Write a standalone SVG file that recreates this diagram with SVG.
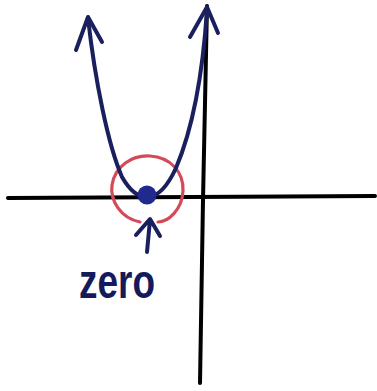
<svg xmlns="http://www.w3.org/2000/svg" width="377" height="391" viewBox="0 0 377 391">
<style>
.ax{stroke:#000;stroke-width:4;fill:none;stroke-linecap:round}
.ink{stroke:#1a1f5e;stroke-width:4;fill:none;stroke-linecap:round;stroke-linejoin:round}
</style>
<rect width="377" height="391" fill="#fff"/>
<g id="axes">
<path class="ax" d="M8,198 L375,196"/>
<path class="ax" d="M207,6 L203,200 L200,383"/>
</g>
<g id="circle">
<path d="M140,222 C120,218 110,200 112,185 C115,166 132,155 150,156 C170,157 184,172 183,191 C182,210 168,222 158,222" fill="none" stroke="#d44a5a" stroke-width="3.2" stroke-linecap="round"/>
</g>
<g id="parabola">
<path class="ink" d="M88,18 C95,80 108,145 122,177 Q134,198 148,197 Q163,196 176,168 C190,135 202,85 207,10"/>
<path class="ink" d="M76,50 L88,17 L102,42"/>
<path class="ink" d="M190,37 L207,7 L218,33"/>
</g>
<g id="zero-point">
<circle cx="147" cy="195" r="9.5" fill="#1f2a8c"/>
</g>
<g id="label">
<path class="ink" d="M147,252 L150,220 M136,235 L150,219 L160,236"/>
<text x="79" y="298" font-family="Liberation Sans, sans-serif" font-size="48" font-weight="bold" fill="#141a5a" textLength="76" lengthAdjust="spacingAndGlyphs">zero</text>
</g>
</svg>
